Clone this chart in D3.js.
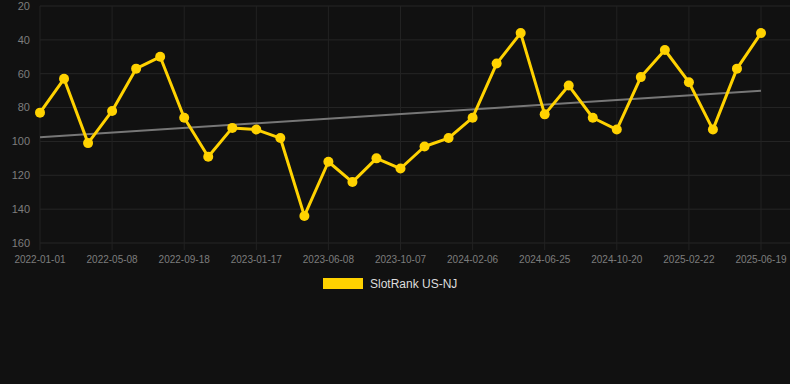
<!DOCTYPE html>
<html>
<head>
<meta charset="utf-8">
<script src="https://cdn.jsdelivr.net/npm/d3@7"></script>
<style>
    html, body { margin: 0; padding: 0; background: #111111; }
    svg { display: block; font-family: "Liberation Sans", Arial, sans-serif; }
</style>
</head>
<body>
<div id="chart"></div>
<script>
// rank values, one per period (lower rank drawn higher)
const ranks = [83, 63, 101, 82, 57, 50, 86, 109, 92, 93,
               98, 144, 112, 124, 110, 116, 103, 98, 86, 54,
               36, 84, 67, 86, 93, 62, 46, 65, 93, 57, 36];
// labels shown on the x axis (every third period)
const tickLabels = ['2022-01-01', '2022-05-08', '2022-09-18', '2023-01-17', '2023-06-08',
                    '2023-10-07', '2024-02-06', '2024-06-25', '2024-10-20', '2025-02-22', '2025-06-19'];
const yTicks = [20, 40, 60, 80, 100, 120, 140, 160];
// trend line, start and end value
const trend = [97.6, 70];
const seriesName = 'SlotRank US-NJ';

let width = 790, height = 384;
let margin = {top: 6, right: 29, bottom: 141, left: 40};
let w = width - margin.left - margin.right,
    h = height - margin.top - margin.bottom;

let svg = d3.select('#chart')
    .append('svg')
        .attr('width', width)
        .attr('height', height)
    .append('g')
        .attr('transform', 'translate(' + margin.left + ',' + margin.top + ')');

let idx = d3.range(ranks.length);
let x = d3.scalePoint()
    .domain(idx)
    .range([0, w]);

let y = d3.scaleLinear()
    .domain([20, 160])
    .range([0, h]);

// horizontal grid
svg.append('g')
    .selectAll('line')
    .data(yTicks)
    .enter()
    .append('line')
        .attr('x1', 0)
        .attr('x2', w + margin.right)
        .attr('y1', d => y(d))
        .attr('y2', d => y(d))
        .style('stroke', '#262626')
        .style('stroke-width', 1);

// vertical grid at labelled periods
let tickIdx = idx.filter(i => i % 3 === 0);
svg.append('g')
    .selectAll('line')
    .data(tickIdx)
    .enter()
    .append('line')
        .attr('x1', d => x(d))
        .attr('x2', d => x(d))
        .attr('y1', 0)
        .attr('y2', h + 7)
        .style('stroke', '#222')
        .style('stroke-width', 1);

// y labels
svg.append('g')
    .selectAll('text')
    .data(yTicks)
    .enter()
    .append('text')
        .attr('x', -10)
        .attr('y', d => y(d))
        .attr('dy', '0.35em')
        .attr('text-anchor', 'end')
        .style('font-size', '11px')
        .style('fill', '#7d7d7d')
        .text(d => d);

// x labels
svg.append('g')
    .selectAll('text')
    .data(tickIdx)
    .enter()
    .append('text')
        .attr('x', d => x(d))
        .attr('y', h + 20)
        .attr('text-anchor', 'middle')
        .style('font-size', '10px')
        .style('fill', '#7d7d7d')
        .text((d, i) => tickLabels[i]);

// trend line
svg.append('line')
    .attr('x1', x(0))
    .attr('x2', x(ranks.length - 1))
    .attr('y1', y(trend[0]))
    .attr('y2', y(trend[1]))
    .style('stroke', '#777')
    .style('stroke-width', 2);

// series
let line = d3.line()
    .x((d, i) => x(i))
    .y(d => y(d));

svg.append('path')
    .datum(ranks)
    .attr('d', line)
    .style('fill', 'none')
    .style('stroke', '#FFD200')
    .style('stroke-width', 3)
    .style('stroke-linejoin', 'round');

svg.append('g')
    .selectAll('circle')
    .data(ranks)
    .enter()
    .append('circle')
        .attr('cx', (d, i) => x(i))
        .attr('cy', d => y(d))
        .attr('r', 5)
        .style('fill', '#FFD200');

// legend
let legend = svg.append('g')
    .attr('transform', 'translate(' + (323 - margin.left) + ',' + (278 - margin.top) + ')');
legend.append('rect')
    .attr('width', 40)
    .attr('height', 11)
    .style('fill', '#FFD200');
legend.append('text')
    .attr('x', 47)
    .attr('y', 6)
    .attr('dy', '0.35em')
    .style('font-size', '12px')
    .style('fill', '#dddddd')
    .text(seriesName);
</script>
</body>
</html>
